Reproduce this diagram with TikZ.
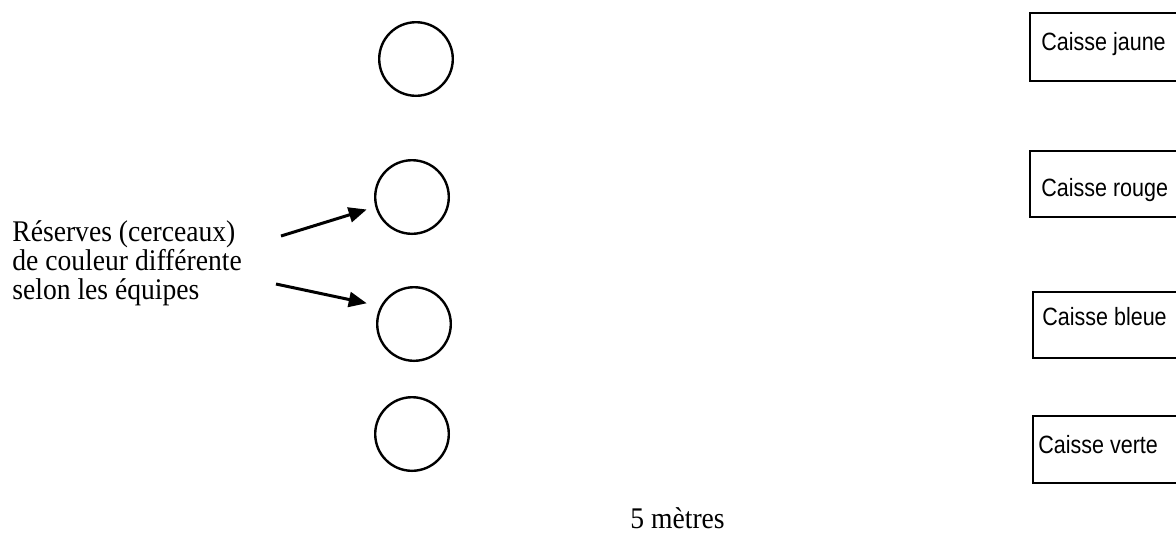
\documentclass[tikz,border=0pt]{standalone}
\usepackage{fontspec}
\setmainfont{Liberation Serif}[FakeStretch=0.92]
\newfontfamily\arial{Liberation Sans}[FakeStretch=0.86]
\usetikzlibrary{arrows.meta,positioning}

\begin{document}
\begin{tikzpicture}[x=0.5pt, y=-0.5pt,
    cerceau/.style={draw, line width=1.2pt, circle, minimum size=36.8pt, inner sep=0pt},
    caisse/.style={draw, line width=1pt, rectangle, anchor=north west, minimum width=82pt, inner sep=0pt},
    etiq/.style={font=\arial\fontsize{12.5}{14}\selectfont, anchor=base west, inner sep=0pt},
    texte/.style={font=\fontsize{15}{14.5}\selectfont, inner sep=0pt},
    fleche/.style={line width=1.5pt, -{Triangle[length=9pt, width=7.5pt]}}]
    \useasboundingbox (0,0) rectangle (1176,532);
    \clip (0,0) rectangle (1176,532);

    % Reserves
    \node[cerceau] (c1) at (416,59) {};
    \node[cerceau] (c2) at (412,197) {};
    \node[cerceau] (c3) at (414,324) {};
    \node[cerceau] (c4) at (412,434) {};

    \node[texte, align=left, anchor=north west] (legende) at (12,220)
        {Réserves (cerceaux)\\de couleur différente\\selon les équipes};
    \coordinate (d1) at (281,236);
    \coordinate (d2) at (276,284);
    \draw[fleche, shorten >=4.5pt] (d1) -- (c2.195);
    \draw[fleche, shorten >=7pt] (d2) -- (c3.152);

    % Caisses
    \node[caisse, minimum height=34pt] (cj) at (1029,12) {};
    \node[etiq] (tj) at (1041,50) {Caisse jaune};

    \node[caisse, minimum height=33pt] (cr) at (1029,150) {};
    \node[etiq] (tr) at (1041,196) {Caisse rouge};

    \node[caisse, minimum height=33pt] (cb) at (1032,291) {};
    \node[etiq] (tb) at (1042,325) {Caisse bleue};

    \node[caisse, minimum height=33.5pt] (cv) at (1032,415) {};
    \node[etiq] (tv) at (1038,453) {Caisse verte};

    % Distance
    \node[texte, anchor=base west] (dist) at (630,528) {5 mètres};
\end{tikzpicture}
\end{document}
